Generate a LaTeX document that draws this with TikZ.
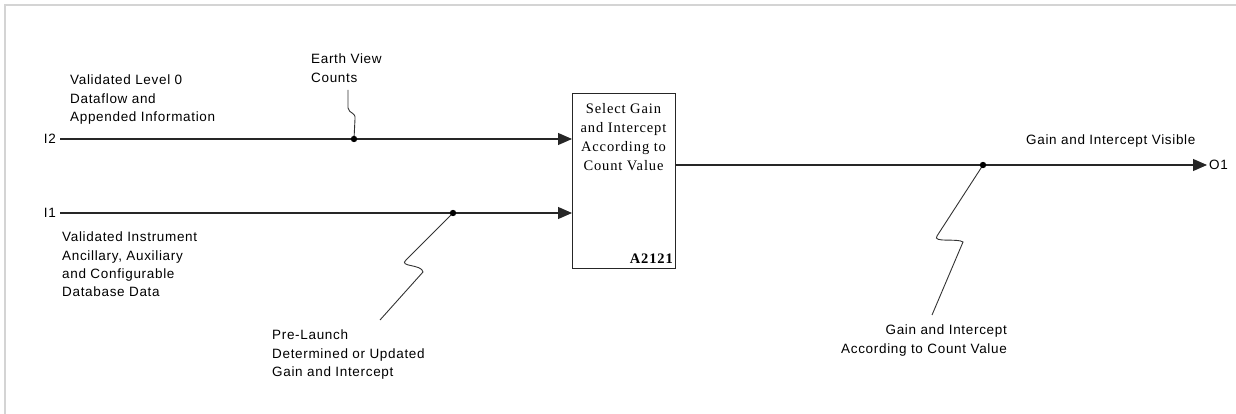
\documentclass[tikz,border=0pt]{standalone}
\usepackage{fontspec}
\setmainfont{Liberation Serif}
\newfontfamily\labelfont[LetterSpace=5]{Liberation Sans}
\newfontfamily\boxfont[LetterSpace=6]{Liberation Serif}
\usetikzlibrary{arrows.meta}
\begin{document}
\begin{tikzpicture}[x=1pt,y=-1pt,
  flow/.style={line width=1.1pt,draw=black!85},
  arrowflow/.style={flow,-{Triangle[length=14pt,width=12pt]}},
  squiggle/.style={line width=0.9pt,draw=black!80},
  actbox/.style={draw=black!85,line width=1.1pt,minimum width=103pt,minimum height=175pt,inner sep=0pt},
  lbl/.style={font=\labelfont\fontsize{13.5}{18.2}\selectfont,inner sep=0pt,align=left},
  lblr/.style={font=\labelfont\fontsize{13.5}{18.2}\selectfont,inner sep=0pt,align=right},
  port/.style={font=\labelfont\fontsize{13.5}{16}\selectfont,inner sep=4pt},
  joint/.style={fill=black,draw=none}]
\useasboundingbox (0,0) rectangle (1236,414);
% frame edges
\draw[draw=black!17,line width=1.5pt] (5,414) -- (5,5) -- (1236,5);

% activity box
\node[actbox,anchor=north west] (box) at (572,93) {};
\node[font=\boxfont\fontsize{14.5}{19}\selectfont,align=center,inner sep=0pt,anchor=north] (boxtxt) at (623.5,103) {Select Gain\\and Intercept\\According to\\Count Value};
\node[font=\boxfont\fontsize{14.5}{16}\bfseries\selectfont,inner sep=0pt,anchor=south east] (boxid) at (673,264) {A2121};

% ports
\node[port,anchor=east] (i2) at (60,139) {I2};
\node[port,anchor=east] (i1) at (60,213) {I1};
\node[port,anchor=west,inner sep=2pt] (o1) at (1207,165) {O1};

% branch points
\coordinate (j2) at (354,139);
\coordinate (j1) at (453,213);
\coordinate (j3) at (983,165);
\coordinate (evtop) at (348,90);
\coordinate (plend) at (380,320);
\coordinate (gcend) at (932,315);

% main flows
\draw[arrowflow] (i2.east) -- (box.west |- i2);
\draw[arrowflow] (i1.east) -- (box.west |- i1);
\draw[arrowflow] (box.east |- o1) -- (o1.west);

% joining flows
\draw[squiggle] (evtop) -- (348,108) .. controls (349,114) and (356,112) .. (355,119) -- (j2);
\draw[squiggle] (j1) -- (406,260) .. controls (398,267) and (422,264) .. (423,272) -- (plend);
\draw[squiggle] (j3) -- (937,236) .. controls (932,243) and (958,238) .. (963,242) -- (gcend);

\foreach \p in {j1,j2,j3} \fill[joint] (\p) circle (3.2pt);

% labels
\node[lbl,anchor=north west] (l0) at (70,75) {Validated Level 0\\Dataflow and\\Appended Information};
\node[lbl,anchor=north west] (ev) at (311,54) {Earth View\\Counts};
\node[lbl,anchor=north west] (vi) at (62,232) {Validated Instrument\\Ancillary, Auxiliary\\and Configurable\\Database Data};
\node[lbl,anchor=north west] (pl) at (272,330) {Pre-Launch\\Determined or Updated\\Gain and Intercept};
\node[lblr,anchor=north east] (gc) at (1007,325) {Gain and Intercept\\According to Count Value};
\node[lbl,anchor=north west] (gv) at (1026,135) {Gain and Intercept Visible};
\end{tikzpicture}
\end{document}
